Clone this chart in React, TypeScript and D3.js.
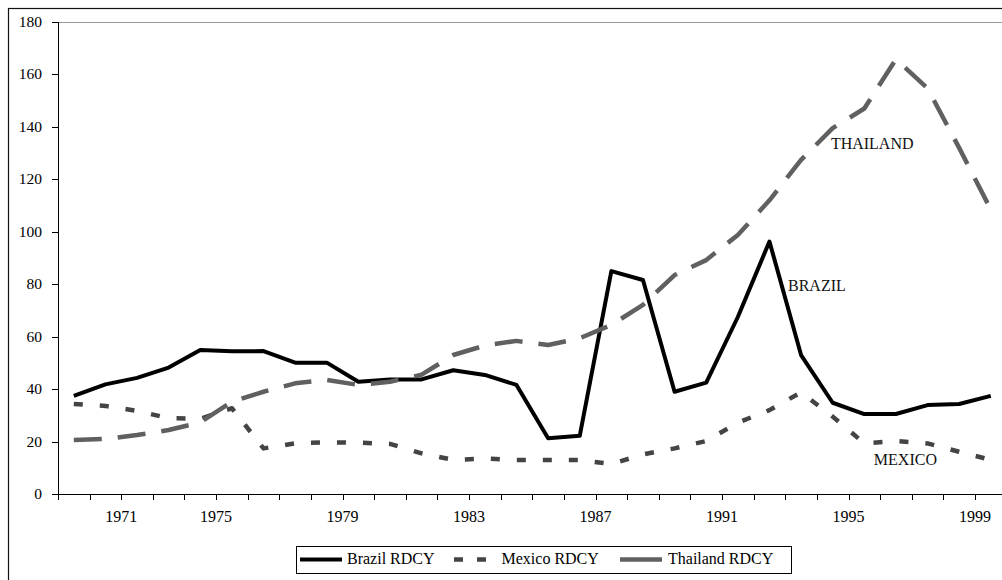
import { useEffect, useRef } from 'react';
import * as d3 from 'd3';

const years = [
  1970, 1971, 1972, 1973, 1974, 1975, 1976, 1977, 1978, 1979,
  1980, 1981, 1982, 1983, 1984, 1985, 1986, 1987, 1988, 1989,
  1990, 1991, 1992, 1993, 1994, 1995, 1996, 1997, 1998, 1999,
];

const brazil = [
  37.4, 41.8, 44.3, 48.2, 54.9, 54.4, 54.5, 50.1, 50.1, 42.8,
  43.7, 43.7, 47.2, 45.4, 41.6, 21.3, 22.2, 85.0, 81.6, 39.0,
  42.5, 67.5, 96.3, 53.0, 34.8, 30.5, 30.5, 33.9, 34.3, 37.4,
];

const mexico = [
  34.3, 33.6, 31.7, 28.9, 28.7, 32.7, 17.4, 19.3, 19.7, 19.6,
  19.1, 15.5, 13.0, 13.5, 13.0, 13.0, 13.0, 11.4, 15.1, 17.4,
  20.2, 27.2, 32.0, 38.8, 29.5, 19.3, 20.2, 19.3, 16.1, 13.0,
];

const thailand = [
  20.6, 21.0, 22.5, 24.4, 27.3, 35.2, 39.0, 42.2, 43.5, 41.6,
  42.8, 45.5, 53.0, 56.6, 58.4, 56.8, 59.4, 64.5, 72.1, 83.5,
  89.2, 98.8, 112.0, 127.4, 139.5, 147.0, 165.8, 154.7, 132.0, 108.5,
];

const yTicks = [0, 20, 40, 60, 80, 100, 120, 140, 160, 180];

// tick labels sit on category boundaries
const xLabels = ['1971', '1975', '1979', '1983', '1987', '1991', '1995', '1999'];
const xLabelAt = [1971.5, 1974.5, 1978.5, 1982.5, 1986.5, 1990.5, 1994.5, 1998.5];

const seriesNames = ['Brazil RDCY', 'Mexico RDCY', 'Thailand RDCY'];

const annotations = [
  { text: 'THAILAND', year: 1995.25, value: 131.5 },
  { text: 'BRAZIL', year: 1993.5, value: 77.3 },
  { text: 'MEXICO', year: 1996.3, value: 11 },
];

const FONT = '"Liberation Serif", "Times New Roman", serif';

const App = () => {
  const svgRef = useRef<SVGSVGElement>(null);

  useEffect(() => {
    if (!svgRef.current) return;
    d3.select(svgRef.current).selectAll('*').remove();

    const width = 1002;
    const height = 580;
    const left = 58;
    const top = 22;
    const bottom = 494;
    const right = 1006.6;

    const svg = d3.select(svgRef.current)
      .attr('width', width)
      .attr('height', height)
      .style('font-family', FONT);

    // outer chart frame (runs off the right and bottom edges)
    svg.append('rect')
      .attr('x', 8.5)
      .attr('y', 8.5)
      .attr('width', 1010)
      .attr('height', 600)
      .attr('fill', 'white')
      .attr('stroke', '#111')
      .attr('stroke-width', 1.2);

    const x = d3.scaleLinear()
      .domain([years[0] - 0.5, years[years.length - 1] + 0.5])
      .range([left, right]);

    const y = d3.scaleLinear()
      .domain([0, 180])
      .range([bottom, top]);

    // plot area top border
    svg.append('line')
      .attr('x1', left)
      .attr('x2', right)
      .attr('y1', y(180) + 0.5)
      .attr('y2', y(180) + 0.5)
      .attr('stroke', '#999')
      .attr('stroke-width', 1);

    // Y axis
    const yAxis = svg.append('g');
    yAxis.append('line')
      .attr('x1', left + 0.5).attr('x2', left + 0.5)
      .attr('y1', top).attr('y2', bottom)
      .attr('stroke', 'black');
    yAxis.selectAll('.ytick')
      .data(yTicks)
      .enter()
      .append('line')
      .attr('x1', left - 6)
      .attr('x2', left)
      .attr('y1', d => Math.round(y(d)) + 0.5)
      .attr('y2', d => Math.round(y(d)) + 0.5)
      .attr('stroke', 'black');
    yAxis.selectAll('.ylabel')
      .data(yTicks)
      .enter()
      .append('text')
      .attr('x', left - 16)
      .attr('y', d => y(d) + 5)
      .attr('text-anchor', 'end')
      .attr('font-size', 15.5)
      .attr('fill', 'black')
      .text(d => d);

    // X axis
    const xAxis = svg.append('g');
    xAxis.append('line')
      .attr('x1', left).attr('x2', right)
      .attr('y1', bottom + 0.5).attr('y2', bottom + 0.5)
      .attr('stroke', 'black');
    const boundaries = years.map(d => d - 0.5).concat([years[years.length - 1] + 0.5]);
    xAxis.selectAll('.xtick')
      .data(boundaries)
      .enter()
      .append('line')
      .attr('x1', d => Math.round(x(d)) + 0.5)
      .attr('x2', d => Math.round(x(d)) + 0.5)
      .attr('y1', bottom)
      .attr('y2', bottom + 6)
      .attr('stroke', 'black');
    xAxis.selectAll('.xlabel')
      .data(xLabels)
      .enter()
      .append('text')
      .attr('x', (_, i) => x(xLabelAt[i]))
      .attr('y', bottom + 28)
      .attr('text-anchor', 'middle')
      .attr('font-size', 16)
      .attr('fill', 'black')
      .text(d => d);

    const line = d3.line<number>()
      .x((_, i) => x(years[i]))
      .y(d => y(d))
      .curve(d3.curveLinear);

    const styles = [
      { data: brazil, color: '#000000', width: 4, dash: null as string | null },
      { data: mexico, color: '#444444', width: 4.5, dash: '9,17' },
      { data: thailand, color: '#606060', width: 4.5, dash: '28,16' },
    ];

    styles.forEach(s => {
      svg.append('path')
        .datum(s.data)
        .attr('d', line)
        .attr('fill', 'none')
        .attr('stroke', s.color)
        .attr('stroke-width', s.width)
        .attr('stroke-linejoin', 'round')
        .attr('stroke-dasharray', s.dash);
    });

    // Series annotations
    svg.selectAll('.note')
      .data(annotations)
      .enter()
      .append('text')
      .attr('x', d => x(d.year))
      .attr('y', d => y(d.value))
      .attr('text-anchor', 'middle')
      .attr('font-size', 16)
      .attr('fill', '#111')
      .text(d => d.text);

    // Legend
    const legend = svg.append('g');
    legend.append('rect')
      .attr('x', 296.5)
      .attr('y', 546.5)
      .attr('width', 495)
      .attr('height', 27)
      .attr('fill', 'white')
      .attr('stroke', 'black');

    const legendX = [300, 454, 620];
    const legendTextX = [347, 501.5, 668];
    const legendY = 559.5;
    styles.forEach((s, i) => {
      legend.append('line')
        .attr('x1', legendX[i])
        .attr('x2', legendX[i] + 42)
        .attr('y1', legendY)
        .attr('y2', legendY)
        .attr('stroke', s.color)
        .attr('stroke-width', i === 0 ? 4 : 4.5)
        .attr('stroke-dasharray', i === 1 ? '9,14' : null);
      legend.append('text')
        .attr('x', legendTextX[i])
        .attr('y', legendY + 4.5)
        .attr('font-size', 16)
        .attr('fill', 'black')
        .text(seriesNames[i]);
    });
  }, []);

  return (
    <div style={{ position: 'absolute', left: 0, top: 0 }}>
      <svg ref={svgRef} style={{ display: 'block' }} />
    </div>
  );
};

export default App;
